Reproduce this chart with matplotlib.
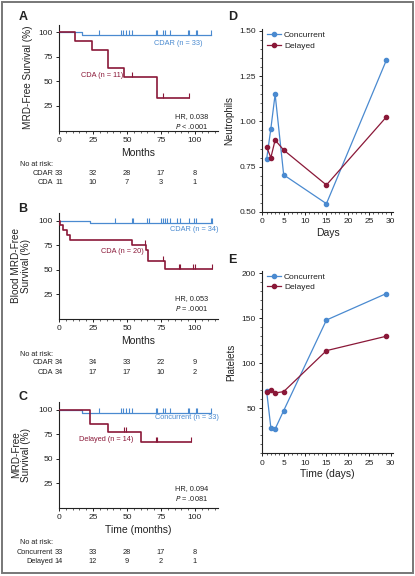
import numpy as np
import matplotlib
matplotlib.use("Agg")
import matplotlib.pyplot as plt
from matplotlib.path import Path
from matplotlib.patches import Rectangle
from matplotlib import transforms
from matplotlib.ticker import MultipleLocator

# =========================
# DATA
# =========================
# Panel A - MRD-free survival
a_cdar_t = [0, 17, 112]
a_cdar_s = [100, 97.0, 97.0]
a_cdar_cens = [29.6, 45.6, 47.3, 49.3, 51.5, 53.4, 71.1, 71.8, 76.7, 77.7, 81.6,
               95.1, 95.8, 100.7, 101.5, 112]
a_cda_t = [0, 12, 24, 36, 48, 72, 96]
a_cda_s = [100, 90.9, 81.8, 63.6, 54.5, 32.7, 32.7]
a_cda_cens = [53.4, 76.7, 96]
a_risk_labels = ["CDAR", "CDA"]
a_risk = [[33, 32, 28, 17, 8], [11, 10, 7, 3, 1]]

# Panel B - blood MRD-free survival
b_cdar_t = [0, 23, 112.7]
b_cdar_s = [100, 97.1, 97.1]
b_cdar_cens = [41.2, 53.4, 54.4, 64.5, 66.2, 75, 76.7, 77.9, 79.2, 81.6, 86.5, 89,
               95.6, 99.3, 100.7, 111.5, 112.7]
b_cda_t = [0, 1, 3.2, 5.6, 8, 53.4, 64.2, 65.7, 78, 112.3]
b_cda_s = [100, 95, 90, 85, 80, 75, 70.4, 58.8, 50.3, 50.3]
b_cda_cens = [63.2, 76.7, 88.5, 89.2, 98.8, 100.2, 112.3]
b_risk_labels = ["CDAR", "CDA"]
b_risk = [[34, 34, 33, 22, 9], [34, 17, 17, 10, 2]]

# Panel C - concurrent vs delayed
c_conc_t = [0, 17, 112]
c_conc_s = [100, 97.0, 97.0]
c_conc_cens = a_cdar_cens
c_del_t = [0, 23, 36, 60, 97]
c_del_s = [100, 85.7, 77.1, 67.5, 67.5]
c_del_cens = [48, 49.3, 71.3, 72, 97]
c_risk_labels = ["Concurrent", "Delayed"]
c_risk = [[33, 33, 28, 17, 8], [14, 12, 9, 2, 1]]

risk_months = [0, 25, 50, 75, 100]

# Panels D / E
days = [1, 2, 3, 5, 15, 29]
neut_conc = [0.79, 0.96, 1.15, 0.705, 0.546, 1.337]
neut_del = [0.86, 0.80, 0.897, 0.842, 0.649, 1.024]
plt_conc = [69.6, 28.4, 27, 47.4, 148, 177.4]
plt_del = [68, 70.4, 67, 68.5, 114, 130]

BLUE = "#4a8ad0"
RED = "#8a1838"
INK = "#222222"

plt.rcParams["font.family"] = ["Liberation Sans Narrow", "Liberation Sans", "DejaVu Sans"]
plt.rcParams["text.color"] = INK
plt.rcParams["axes.labelcolor"] = INK
plt.rcParams["xtick.color"] = INK
plt.rcParams["ytick.color"] = INK

W, H = 415, 576
fig = plt.figure(figsize=(W / 100, H / 100), dpi=100)

# gray frame around the figure
fig.patches.append(Rectangle((1.5 / W, 3.5 / H), (W - 3.5) / W, (H - 5) / H,
                             transform=fig.transFigure, fill=False,
                             edgecolor="#777777", linewidth=1.4))


def px_axes(left, top, right, bottom):
    return fig.add_axes([left / W, 1 - bottom / H, (right - left) / W, (bottom - top) / H])


def style(ax):
    for s in ["top", "right"]:
        ax.spines[s].set_visible(False)
    for s in ["left", "bottom"]:
        ax.spines[s].set_linewidth(0.8)
        ax.spines[s].set_color(INK)
    ax.tick_params(which="major", length=2.5, width=0.7, labelsize=6, pad=2)
    ax.tick_params(which="minor", length=1.3, width=0.5)


tick_up = Path([(0, 0), (0, 1)])


def km_panel(top, bottom, blue, red, blue_lbl, red_lbl, hr, pv, ylab,
             xlab, risk_labels, risk, ypos, letter, letter_y, ylab_x):
    ax = px_axes(59, top, 218, bottom)
    style(ax)
    ax.set_xlim(0, 117)
    ax.set_ylim(0, 108)
    ax.set_xticks([0, 25, 50, 75, 100])
    ax.xaxis.set_minor_locator(MultipleLocator(5))
    ax.set_yticks([25, 50, 75, 100])
    for (t, s, cens), col, lw, z in [(blue, BLUE, 0.9, 2), (red, RED, 1.2, 3)]:
        ax.step(t, s, where="post", color=col, lw=lw, zorder=z)
        # step value at each censor time
        cy = [s[np.searchsorted(t, c, side="right") - 1] for c in cens]
        ax.plot(cens, cy, ls="none", marker=tick_up, ms=6.5, mew=0.8,
                color=col, zorder=z)
    ax.set_ylabel(ylab, fontsize=7.2, linespacing=1.0)
    ax.yaxis.set_label_coords((ylab_x - 59) / 159, 0.5)
    ax.set_xlabel(xlab, fontsize=7.5, labelpad=3)
    bt, rt = blue_lbl, red_lbl
    ax.text(bt[1], bt[2], bt[0], color=BLUE, fontsize=5.3, ha="right", va="center")
    ax.text(rt[1], rt[2], rt[0], color=RED, fontsize=5.3, ha="right", va="center")
    ax.text(0.937, hr[1], hr[0], transform=ax.transAxes, fontsize=5.3,
            ha="right", va="center")
    ax.text(0.937, pv[1], pv[0], transform=ax.transAxes, fontsize=5.3,
            ha="right", va="center")
    tr = transforms.blended_transform_factory(ax.transData, fig.transFigure)
    fig.text(20 / W, 1 - ypos[0] / H, "No at risk:", fontsize=5.3, va="center")
    for lab, row, yy in zip(risk_labels, risk, ypos[1:]):
        fig.text(53 / W, 1 - yy / H, lab, fontsize=5.3, ha="right", va="center")
        for m, n in zip(risk_months, row):
            ax.text(m, 1 - yy / H, str(n), transform=tr, fontsize=5.3,
                    ha="center", va="center")
    fig.text(23 / W, 1 - letter_y / H, letter, fontsize=9, fontweight="bold",
             family="Liberation Sans", va="center", ha="center")
    return ax


km_panel(24.5, 130.5,
         (a_cdar_t, a_cdar_s, a_cdar_cens), (a_cda_t, a_cda_s, a_cda_cens),
         ("CDAR (n = 33)", 105.5, 89), ("CDA (n = 11)", 47, 56.5),
         ("HR, 0.038", 0.13), ("$\\it{P}$ < .0001", 0.036),
         "MRD-Free Survival (%)", "Months",
         a_risk_labels, a_risk, [165, 174, 183], "A", 17, 33)

km_panel(212.7, 318.7,
         (b_cdar_t, b_cdar_s, b_cdar_cens), (b_cda_t, b_cda_s, b_cda_cens),
         ("CDAR (n = 34)", 117.5, 90.4), ("CDA (n = 20)", 62, 68.3),
         ("HR, 0.053", 0.186), ("$\\it{P}$ = .0001", 0.10),
         "Blood MRD-Free\nSurvival (%)", "Months",
         b_risk_labels, b_risk, [354, 363, 372], "B", 208.5, 31)

km_panel(402, 508,
         (c_conc_t, c_conc_s, c_conc_cens), (c_del_t, c_del_s, c_del_cens),
         ("Concurrent (n = 33)", 117.5, 92), ("Delayed (n = 14)", 54.4, 70.3),
         ("HR, 0.094", 0.18), ("$\\it{P}$ = .0081", 0.094),
         "MRD-Free\nSurvival (%)", "Time (months)",
         c_risk_labels, c_risk, [542.7, 552.3, 561.7], "C", 396.7, 31)


def lab_panel(top, bottom, yc, yd, ylim, minor, ylab, xlab, yticks, fmt,
              letter, letter_y, ylab_x):
    ax = px_axes(262.3, top, 392.7, bottom)
    style(ax)
    ax.plot(days, yc, color=BLUE, lw=0.9, marker="o", ms=3, label="Concurrent")
    ax.plot(days, yd, color=RED, lw=0.9, marker="o", ms=3, label="Delayed")
    ax.set_xlim(0, 30.5)
    ax.set_ylim(*ylim)
    ax.set_xticks([0, 5, 10, 15, 20, 25, 30])
    ax.xaxis.set_minor_locator(MultipleLocator(1))
    ax.set_yticks(yticks)
    ax.set_yticklabels([fmt.format(v) for v in yticks])
    ax.yaxis.set_minor_locator(MultipleLocator(minor))
    ax.set_ylabel(ylab, fontsize=7)
    ax.yaxis.set_label_coords((ylab_x - 262.3) / 130.4, 0.5)
    ax.set_xlabel(xlab, fontsize=7.5, labelpad=2)
    ax.legend(loc="upper left", bbox_to_anchor=(0.0, 1.015), frameon=False,
              fontsize=6, handlelength=1.6, handletextpad=0.4, labelspacing=0.35,
              borderaxespad=0.2)
    fig.text(232.7 / W, 1 - letter_y / H, letter, fontsize=9, fontweight="bold",
             family="Liberation Sans", va="center", ha="center")
    return ax


lab_panel(29, 212, neut_conc, neut_del, (0.5, 1.51), 0.05,
          "Neutrophils", "Days", [0.5, 0.75, 1.0, 1.25, 1.5], "{:.2f}", "D", 17, 234)
lab_panel(270.5, 453.3, plt_conc, plt_del, (0, 203), 10,
          "Platelets", "Time (days)", [50, 100, 150, 200], "{:.0f}", "E", 260, 236.7)

fig.savefig("out.png", dpi=100)
